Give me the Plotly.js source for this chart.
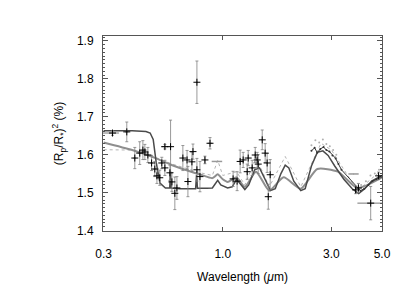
<!DOCTYPE html>
<html>
<head>
<meta charset="utf-8">
<script src="https://cdn.plot.ly/plotly-3.0.1.min.js"></script>
<style>html,body{margin:0;padding:0;background:#fff;}#chart{width:415px;height:298px;}</style>
</head>
<body>
<div id="chart"></div>
<script>
// Model A (dark): flat high in the blue, Na/K lines, IR water/CH4 bands
const modelAWl  = [0.30,0.40,0.46,0.48,0.495,0.51,0.53,0.56,0.585,0.587,0.589,0.591,0.594,0.65,0.76,0.764,0.767,0.770,0.774,0.85,0.90,0.95,0.98,1.05,1.10,1.15,1.20,1.25,1.30,1.38,1.45,1.55,1.62,1.70,1.80,1.88,1.95,2.05,2.20,2.30,2.45,2.60,2.75,2.90,3.10,3.40,3.70,3.95,4.20,4.50,5.00];
const modelAVal = [1.663,1.663,1.661,1.657,1.640,1.580,1.525,1.512,1.512,1.540,1.556,1.540,1.512,1.510,1.510,1.535,1.546,1.535,1.511,1.511,1.512,1.532,1.520,1.512,1.515,1.535,1.520,1.508,1.520,1.560,1.565,1.530,1.505,1.510,1.550,1.572,1.565,1.530,1.505,1.510,1.570,1.606,1.610,1.598,1.570,1.535,1.510,1.497,1.510,1.530,1.545];
// Model B (grey, muted)
const modelBWl  = [0.30,0.40,0.50,0.60,0.70,0.80,0.90,0.95,1.00,1.05,1.15,1.25,1.40,1.60,1.85,2.20,2.60,3.20,3.90,5.00];
const modelBVal = [1.632,1.612,1.592,1.572,1.558,1.547,1.538,1.548,1.535,1.528,1.540,1.515,1.555,1.505,1.540,1.510,1.562,1.555,1.512,1.540];
// Model C (light grey, thin)
const modelCWl  = [0.30,0.40,0.45,0.60,0.80,0.90,0.95,1.00,1.15,1.25,1.40,1.60,1.88,2.20,2.70,3.00,3.90,5.00];
const modelCVal = [1.613,1.612,1.605,1.575,1.552,1.545,1.585,1.545,1.555,1.520,1.592,1.515,1.595,1.515,1.630,1.612,1.505,1.560];
// Observed transit depths with error bars
const obsWl  = [0.328,0.379,0.411,0.432,0.446,0.455,0.469,0.487,0.503,0.514,0.529,0.540,0.557,0.557,0.590,0.586,0.598,0.616,0.629,0.668,0.697,0.703,0.732,0.740,0.770,0.794,0.835,0.770,0.879,1.110,1.156,1.192,1.229,1.280,1.293,1.346,1.388,1.416,1.431,1.490,1.535,1.566,1.615,1.584,3.83,3.94,4.46,4.83];
const obsVal = [1.657,1.660,1.591,1.604,1.612,1.607,1.599,1.578,1.562,1.544,1.539,1.578,1.565,1.621,1.621,1.552,1.528,1.498,1.512,1.591,1.586,1.529,1.581,1.608,1.560,1.542,1.586,1.791,1.630,1.536,1.530,1.582,1.586,1.555,1.591,1.565,1.599,1.586,1.575,1.639,1.604,1.578,1.547,1.489,1.507,1.512,1.472,1.544];
const obsErr = [0.006,0.026,0.028,0.030,0.025,0.020,0.020,0.020,0.020,0.020,0.020,0.015,0.020,0.006,0.070,0.020,0.025,0.043,0.030,0.033,0.025,0.040,0.025,0.020,0.030,0.040,0.010,0.056,0.015,0.020,0.025,0.030,0.020,0.020,0.020,0.020,0.020,0.020,0.025,0.026,0.025,0.025,0.040,0.033,0.010,0.012,0.044,0.010];
const obsWlPlus  = [0.022,0.006,0.006,0.006,0.006,0.006,0.006,0.006,0.006,0.006,0.006,0.006,0.006,0.020,0.006,0.006,0.006,0.006,0.006,0.006,0.006,0.006,0.006,0.006,0.006,0.006,0.006,0.006,0.020,0.012,0.012,0.012,0.012,0.012,0.012,0.012,0.012,0.012,0.012,0.012,0.012,0.012,0.012,0.012,0.04,0.04,0.54,0.05];
const obsWlMinus = [0.030,0.006,0.006,0.006,0.006,0.006,0.006,0.006,0.006,0.006,0.006,0.006,0.006,0.020,0.006,0.006,0.006,0.006,0.006,0.006,0.006,0.006,0.006,0.006,0.006,0.006,0.006,0.006,0.020,0.012,0.012,0.012,0.012,0.012,0.012,0.012,0.012,0.012,0.012,0.012,0.012,0.012,0.012,0.012,0.04,0.04,0.56,0.05];
// Broadband grey points (horizontal bars)
const bandWl = [0.944,3.75];
const bandVal = [1.582,1.549];
const bandPlus = [0.05,0.20];
const bandMinus = [0.05,0.19];
// Dense IR spectrum (dark) and light spectrum points
const specWl  = [2.45,2.53,2.60,2.68,2.77,2.85,2.94,3.03,3.13,3.22,3.32,4.02,4.18,4.36,4.54,4.73,4.93];
const specVal = [1.610,1.618,1.605,1.615,1.620,1.612,1.608,1.598,1.590,1.575,1.560,1.505,1.510,1.520,1.530,1.535,1.540];
const lightWl  = [2.45,2.55,2.65,2.75,2.85,2.95,3.05,3.15,4.05,4.25,4.45,4.65,4.85];
const lightVal = [1.625,1.638,1.632,1.640,1.628,1.622,1.612,1.600,1.520,1.530,1.545,1.550,1.560];

const font = {family: 'Liberation Sans, Arial, sans-serif', size: 12, color: '#000'};
const traces = [
  {x: modelCWl, y: modelCVal, mode: 'lines', line: {color: '#b5b5b5', width: 1, dash: 'dot'}, hoverinfo: 'skip'},
  {x: modelBWl, y: modelBVal, mode: 'lines', line: {color: '#8e8e8e', width: 2, shape: 'spline', smoothing: 0.6}},
  {x: modelAWl, y: modelAVal, mode: 'lines', line: {color: '#4a4a4a', width: 1.5}},
  {x: lightWl, y: lightVal, mode: 'markers', marker: {color: '#b0b0b0', size: 2}},
  {x: specWl, y: specVal, mode: 'lines+markers', line: {color: '#333', width: 1}, marker: {color: '#333', size: 2}},
  {x: bandWl, y: bandVal, mode: 'markers', marker: {color: '#999', size: 1},
   error_x: {type: 'data', array: bandPlus, arrayminus: bandMinus, color: '#999', thickness: 1.5, width: 0}},
  {x: obsWl, y: obsVal, mode: 'markers',
   marker: {symbol: 'cross-thin-open', size: 5, line: {color: '#000', width: 1}, color: '#000'},
   error_y: {type: 'data', array: obsErr, color: '#808080', thickness: 0.8, width: 1.5},
   error_x: {type: 'data', array: obsWlPlus, arrayminus: obsWlMinus, color: '#555', thickness: 0.8, width: 0}}
];
const layout = {
  width: 415, height: 298,
  margin: {l: 103, r: 33, t: 36, b: 67},
  paper_bgcolor: '#fff', plot_bgcolor: '#fff',
  showlegend: false,
  font: font,
  xaxis: {
    type: 'log', range: [Math.log10(0.298), Math.log10(5.0)],
    tickvals: [0.3, 1, 3, 5], ticktext: ['0.3', '1.0', '3.0', '5.0'],
    ticks: 'inside', ticklen: 4, tickcolor: '#555',
    showline: true, linecolor: '#555', linewidth: 1, mirror: 'ticks',
    showgrid: false, zeroline: false, ticklabelstandoff: 12,
    title: {text: 'Wavelength (<i>μ</i>m)', font: font, standoff: 12}
  },
  yaxis: {
    range: [1.3985, 1.913],
    tickvals: [1.4, 1.5, 1.6, 1.7, 1.8, 1.9], ticktext: ['1.4', '1.5', '1.6', '1.7', '1.8', '1.9'],
    ticks: 'inside', ticklen: 5, tickcolor: '#555',
    minor: {dtick: 0.01, ticks: 'inside', ticklen: 2, tickcolor: '#555', showgrid: false},
    showline: true, linecolor: '#555', linewidth: 1, mirror: 'allticks',
    showgrid: false, zeroline: false, ticklabelstandoff: 6,
    title: {text: '(R<sub>p</sub>/R<sub>*</sub>)<sup>2</sup> (%)', font: font, standoff: 10}
  }
};
Plotly.newPlot('chart', traces, layout, {staticPlot: true, displayModeBar: false});
</script>
</body>
</html>
